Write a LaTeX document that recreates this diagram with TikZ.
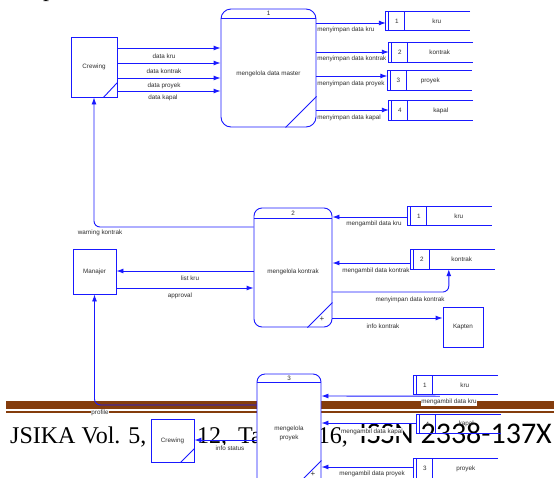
\documentclass[tikz,border=0pt]{standalone}
\usepackage{fontspec}
\setmainfont{Liberation Sans}
\newfontfamily\footserif{Liberation Serif}
\newfontfamily\footsans{Carlito}
\usetikzlibrary{arrows.meta,calc}
\definecolor{dfd}{RGB}{25,25,255}
\definecolor{jbrown}{RGB}{132,60,12}
\definecolor{txtc}{RGB}{45,45,45}
\newcommand\storelines[4]{%
  \draw[ln] (#1.north east) -- (#1.north west) -- (#1.south west) -- (#1.south east);
  \draw[ln] ([xshift=3pt]#1.north west) -- ([xshift=3pt]#1.south west);
  \draw[ln] ([xshift=19pt]#1.north west) -- ([xshift=19pt]#1.south west);
  \node[txt] (#1n) at ([xshift=11pt]#1.west) {#2};
  \node[txt] (#1l) at ([xshift=#4pt]#1.west) {#3};
}
\begin{document}
\begin{tikzpicture}[x=1pt,y=-1pt,
  ln/.style={draw=dfd,line width=0.9pt},
  flow/.style={ln,-{Latex[length=7pt,width=5pt]}},
  txt/.style={font=\fontsize{6.3}{7}\selectfont,text=txtc,inner sep=0.6pt},
  lab/.style={txt,fill=white},
  ent/.style={ln,fill=white,inner sep=0,font=\fontsize{6.3}{7}\selectfont,text=txtc},
  proc/.style={ln,fill=white,inner sep=0},
  store/.style={inner sep=0,minimum width=84pt,minimum height=19pt},
  foot/.style={inner sep=0,anchor=base west,text=black},
]
\useasboundingbox (0,0) rectangle (554,477);
\clip (0,0) rectangle (554,477);

% page fragments (journal footer)
\node[inner sep=0,anchor=base,font=\footserif\fontsize{24}{24}\selectfont] (pfrag) at (49,-3.3) {p};
\fill[jbrown] (6,401) rectangle (554,409);
\fill[jbrown] (6,411) rectangle (554,413);
\node[foot,font=\footserif\fontsize{24}{24}\selectfont] (f1) at (10,443) {JSIKA Vol. 5,};
\node[foot,font=\footserif\fontsize{24}{24}\selectfont] (f2) at (197,443) {12,};
\node[foot,font=\footserif\fontsize{24}{24}\selectfont] (f3) at (238,443) {Ta};
\node[foot,anchor=base east,font=\footserif\fontsize{24}{24}\selectfont] (f4) at (348,443) {016,};
\node[foot,anchor=base east,font=\footsans\fontsize{30}{30}\selectfont] (f5) at (552,443) {ISSN 2338-137X};

% ---------- entities ----------
\node[ent,minimum width=46pt,minimum height=60pt] (crew1) at (94,67) {Crewing};
\draw[ln] ([xshift=-14pt]crew1.south east) -- ([yshift=15pt]crew1.south east);
\node[ent,minimum width=43pt,minimum height=45pt] (man) at (94.5,271.5) {Manajer};
\node[ent,minimum width=40pt,minimum height=40pt] (kap) at (463,327) {Kapten};
\node[ent,minimum width=43pt,minimum height=43pt] (crew2) at (172.5,440.5) {Crewing};
\draw[ln] ([xshift=-14pt]crew2.south east) -- ([yshift=14pt]crew2.south east);

% ---------- process 1 ----------
\node[proc,rounded corners=10pt,minimum width=95pt,minimum height=118pt] (p1) at (268.5,68) {};
\draw[ln] ([yshift=-10pt]p1.north west) -- ([yshift=-10pt]p1.north east);
\node[txt] (p1n) at ([yshift=-5pt]p1.north) {1};
\node[txt] (p1l) at ([yshift=-6pt]p1.center) {mengelola data master};
\draw[ln] ([xshift=-31pt]p1.south east) -- ([yshift=31pt]p1.south east);

% ---------- process 2 ----------
\node[proc,rounded corners=8pt,minimum width=78pt,minimum height=119pt] (p2) at (293,267.5) {};
\draw[ln] ([yshift=-11pt]p2.north west) -- ([yshift=-11pt]p2.north east);
\node[txt] (p2n) at ([yshift=-5.5pt]p2.north) {2};
\node[txt] (p2l) at ([yshift=-4.5pt]p2.center) {mengelola kontrak};
\draw[ln] ([xshift=-25pt]p2.south east) -- ([yshift=25pt]p2.south east);
\node[txt,font=\fontsize{8}{8}\selectfont] (p2p) at (322,319) {+};

% ---------- process 3 ----------
\node[proc,rounded corners=8pt,minimum width=64pt,minimum height=116pt] (p3) at (289,432) {};
\draw[ln] ([yshift=-9pt]p3.north west) -- ([yshift=-9pt]p3.north east);
\node[txt] (p3n) at ([yshift=-4.5pt]p3.north) {3};
\node[txt,align=center,font=\fontsize{6.3}{9}\selectfont] (p3l) at (289,433) {mengelola\\proyek};
\draw[ln] ([xshift=-30pt]p3.south east) -- ([yshift=30pt]p3.south east);
\node[txt,font=\fontsize{8}{8}\selectfont] (p3p) at (313,474) {+};

% ---------- data stores ----------
\node[store] (ts1) at (428,21) {};   \storelines{ts1}{1}{kru}{51}
\node[store] (ts2) at (431,52.5) {}; \storelines{ts2}{2}{kontrak}{51}
\node[store] (ts3) at (429.5,80.5) {}; \storelines{ts3}{3}{proyek}{43}
\node[store] (ts4) at (431,110.5) {}; \storelines{ts4}{4}{kapal}{52}
\node[store] (ms1) at (450,216) {};  \storelines{ms1}{1}{kru}{51}
\node[store] (ms2) at (453,259.5) {}; \storelines{ms2}{2}{kontrak}{51}
\node[store] (bs1) at (456,385) {};  \storelines{bs1}{1}{kru}{51}
\node[store] (bs4) at (458.5,424) {}; \storelines{bs4}{4}{kapal}{50}
\node[store] (bs3) at (456,468.5) {}; \storelines{bs3}{3}{proyek}{52}

% ---------- flows: process 1 ----------
\draw[flow] (crew1.east |- 0,48) -- (p1.west |- 0,48);
\draw[flow] (crew1.east |- 0,63) -- (p1.west |- 0,63);
\draw[flow] (crew1.east |- 0,78) -- (p1.west |- 0,78);
\draw[flow] (crew1.east |- 0,91) -- (p1.west |- 0,91);
\node[lab] (l1) at (164,56) {data kru};
\node[lab] (l2) at (164,71) {data kontrak};
\node[lab] (l3) at (164,86) {data proyek};
\node[lab] (l4) at (163,98) {data kapal};

\draw[flow] (p1.east |- 0,23) -- (ts1.west |- 0,23);
\draw[flow] (p1.east |- 0,52) -- (ts2.west |- 0,52);
\draw[flow] (p1.east |- 0,76) -- (ts3.west |- 0,76);
\draw[flow] (p1.east |- 0,110) -- (ts4.west |- 0,110);
\node[lab,anchor=west] (l5) at (316.5,30) {menyimpan data kru};
\node[lab,anchor=west] (l6) at (316.5,59) {menyimpan data kontrak};
\node[lab,anchor=west] (l7) at (316.5,83.5) {menyimpan data proyek};
\node[lab,anchor=west] (l8) at (316.5,118) {menyimpan data kapal};

% ---------- flows: process 2 ----------
\draw[flow] (ms1.west |- 0,217) -- (p2.east |- 0,217);
\draw[flow] (ms2.west |- 0,263) -- (p2.east |- 0,263);
\draw[flow,rounded corners=6pt] (p2.east |- 0,292) -| ([xshift=38pt]ms2.south west);
\draw[flow] (p2.east |- 0,318) -- (kap.west |- 0,318);
\node[lab] (l9) at (374,224) {mengambil data kru};
\node[lab] (l10) at (376,271) {mengambil data kontrak};
\node[lab] (l11) at (410,299.5) {menyimpan data kontrak};
\node[lab] (l12) at (383,326) {info kontrak};

\draw[flow,rounded corners=6pt] (p2.west |- 0,227) -| (crew1.south);
\draw[flow] (p2.west |- 0,271) -- (man.east |- 0,271);
\draw[flow] (man.east |- 0,288) -- (p2.west |- 0,288);
\node[lab] (l13) at (100,233) {warning kontrak};
\node[lab] (l14) at (190,278) {list kru};
\node[lab] (l15) at (180,296) {approval};

% ---------- flows: process 3 ----------
\draw[flow,rounded corners=6pt] (p3.west |- 0,405) -| (man.south);
\node[lab] (l16) at (100,413) {profile};
\draw[flow] ([xshift=26pt,yshift=-1.5pt]bs1.south west) -- (p3.east |- 0,396);
\draw[flow] (bs4.west |- 0,423) -- (p3.east |- 0,423);
\draw[flow] (bs3.west |- 0,467) -- (p3.east |- 0,467);
\node[lab] (l17) at (449,402) {mengambil data kru};
\node[lab] (l18) at (372,432) {mengambil data kapal};
\node[lab] (l19) at (372,474) {mengambil data proyek};
\draw[flow] (p3.west |- 0,440) -- (crew2.east |- 0,440);
\node[lab] (l20) at (230,448) {info status};
\end{tikzpicture}
\end{document}
